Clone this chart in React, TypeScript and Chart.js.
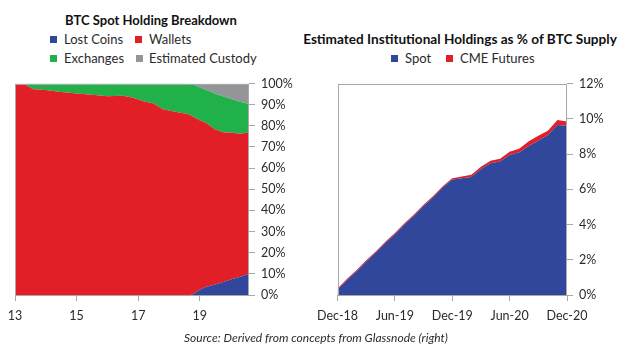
import React, { useEffect, useRef } from "react";
import { Chart, registerables } from "chart.js";

Chart.register(...registerables);

// ---------- Data: left chart (BTC Spot Holding Breakdown, % of supply) ----------
const leftYears = [13.0, 13.3, 13.6, 14.0, 14.5, 15.0, 15.5, 16.0, 16.5, 16.8, 17.2, 17.5, 17.8, 18.2, 18.6, 18.7, 18.8, 19.0, 19.2, 19.5, 19.8, 20.0, 20.3, 20.6];
const lostCoins = [0, 0, 0, 0, 0, 0, 0, 0, 0, 0, 0, 0, 0, 0, 0, 0, 0.6, 2.5, 3.8, 5.0, 6.3, 7.3, 8.5, 10.0];
const wallets = [100, 99.6, 97.3, 96.9, 96.0, 95.3, 94.7, 94.0, 94.2, 93.4, 91.5, 90.5, 87.8, 86.6, 85.6, 85.0, 83.6, 80.1, 77.6, 73.2, 70.5, 69.5, 67.8, 66.8];
const exchanges = [0, 0.4, 2.7, 3.1, 4.0, 4.7, 5.3, 6.0, 5.8, 6.6, 8.5, 9.5, 12.2, 13.4, 14.4, 14.9, 15.3, 15.6, 15.6, 17.0, 16.9, 16.0, 15.1, 13.5];
const custody = [0, 0, 0, 0, 0, 0, 0, 0, 0, 0, 0, 0, 0, 0, 0, 0.1, 0.5, 1.8, 3.0, 4.8, 6.3, 7.2, 8.6, 9.7];
const leftXTicks = [13, 15, 17, 19];

// ---------- Data: right chart (Institutional holdings, % of BTC supply) ----------
const months = [0, 1, 2, 3, 4, 5, 6, 7, 8, 9, 10, 11, 12, 13, 14, 15, 16, 17, 18, 19, 20, 21, 22, 23, 24];
const spot = [0.3, 0.85, 1.35, 1.9, 2.4, 2.95, 3.45, 4.0, 4.5, 5.05, 5.55, 6.1, 6.55, 6.62, 6.7, 7.15, 7.48, 7.58, 7.95, 8.1, 8.45, 8.75, 9.08, 9.65, 9.6];
const cmeFutures = [0.07, 0.07, 0.07, 0.07, 0.07, 0.07, 0.07, 0.07, 0.07, 0.07, 0.07, 0.07, 0.08, 0.1, 0.12, 0.13, 0.14, 0.15, 0.18, 0.2, 0.28, 0.28, 0.24, 0.28, 0.24];
const rightTickValues = [0, 6, 12, 18, 24];
const rightTickLabels = ["Dec-18", "Jun-19", "Dec-19", "Jun-20", "Dec-20"];

const BLUE = "#30479b";
const RED = "#e21f26";
const GREEN = "#21b14b";
const GRAY = "#939598";
const AXIS = "#a8a8a8";
const TXT = "#2b2b2b";
const FONT = "Lato, 'Open Sans', sans-serif";

const framePlugin = {
  id: "frame",
  afterDatasetsDraw(chart: any) {
    const { ctx, chartArea: a } = chart;
    ctx.save();
    ctx.strokeStyle = AXIS;
    ctx.lineWidth = 1;
    ctx.strokeRect(Math.round(a.left) + 0.5, Math.round(a.top) + 0.5, Math.round(a.right - a.left) - 1, Math.round(a.bottom - a.top) - 1);
    ctx.restore();
  },
};

function makeOptions(p: {
  xMin: number; xMax: number; xTicks: number[]; xLabel: (v: number) => string;
  yMax: number; yStep: number; padLeft: number; yWidth: number;
}) {
  return {
    responsive: false,
    animation: false,
    devicePixelRatio: 1,
    layout: { padding: { left: p.padLeft, top: 9, right: 0, bottom: 0 } },
    plugins: { legend: { display: false }, tooltip: { enabled: false }, title: { display: false } },
    elements: { point: { radius: 0 }, line: { borderWidth: 0, tension: 0 } },
    scales: {
      x: {
        type: "linear",
        min: p.xMin,
        max: p.xMax,
        afterBuildTicks: (s: any) => { s.ticks = p.xTicks.map((v) => ({ value: v })); },
        afterFit: (s: any) => { s.height = 35; },
        ticks: { callback: (v: any) => p.xLabel(Number(v)), color: TXT, font: { family: FONT, size: 12.5 }, padding: 7, maxRotation: 0, autoSkip: false },
        grid: { drawOnChartArea: false, drawTicks: true, tickLength: 6, color: AXIS },
        border: { display: false },
      },
      y: {
        position: "right",
        stacked: true,
        min: 0,
        max: p.yMax,
        afterFit: (s: any) => { s.width = p.yWidth; },
        ticks: { stepSize: p.yStep, callback: (v: any) => v + "%", color: TXT, font: { family: FONT, size: 12.5 }, padding: 6 },
        grid: { drawOnChartArea: false, drawTicks: true, tickLength: 6, color: AXIS },
        border: { display: false },
      },
    },
  };
}

function ChartCanvas({ config, left, top, width, height }: any) {
  const ref = useRef<HTMLCanvasElement>(null);
  useEffect(() => {
    const chart = new Chart(ref.current as HTMLCanvasElement, config);
    return () => chart.destroy();
  }, []);
  return <canvas ref={ref} width={width} height={height} style={{ position: "absolute", left, top, width, height }} />;
}

function Txt({ x, y, w, align, size, bold, italic, children, ls }: any) {
  const style: any = {
    position: "absolute",
    top: y - 9,
    height: 18,
    lineHeight: "18px",
    fontFamily: FONT,
    fontSize: size,
    fontWeight: bold ? 700 : 400,
    fontStyle: italic ? "italic" : "normal",
    color: bold ? "#111" : TXT,
    whiteSpace: "nowrap",
    letterSpacing: ls || 0,
  };
  if (align === "center") {
    style.left = x - w / 2;
    style.width = w;
    style.textAlign = "center";
  } else {
    style.left = x;
  }
  return <div style={style}>{children}</div>;
}

function Swatch({ x, y, color }: any) {
  return <div style={{ position: "absolute", left: x, top: y - 3.5, width: 7, height: 7, background: color }} />;
}

export default function App() {
  const leftConfig: any = {
    type: "line",
    data: {
      datasets: [
        { label: "Lost Coins", data: leftYears.map((x, i) => ({ x, y: lostCoins[i] })), backgroundColor: BLUE, fill: "origin" },
        { label: "Wallets", data: leftYears.map((x, i) => ({ x, y: wallets[i] })), backgroundColor: RED, fill: "-1" },
        { label: "Exchanges", data: leftYears.map((x, i) => ({ x, y: exchanges[i] })), backgroundColor: GREEN, fill: "-1" },
        { label: "Estimated Custody", data: leftYears.map((x, i) => ({ x, y: custody[i] })), backgroundColor: GRAY, fill: "-1" },
      ],
    },
    options: makeOptions({ xMin: 13, xMax: 20.6, xTicks: leftXTicks, xLabel: (v) => String(v), yMax: 100, yStep: 10, padLeft: 15, yWidth: 61 }),
    plugins: [framePlugin],
  };

  const rightConfig: any = {
    type: "line",
    data: {
      datasets: [
        { label: "Spot", data: months.map((x, i) => ({ x, y: spot[i] })), backgroundColor: BLUE, fill: "origin" },
        { label: "CME Futures", data: months.map((x, i) => ({ x, y: cmeFutures[i] })), backgroundColor: RED, fill: "-1" },
      ],
    },
    options: makeOptions({
      xMin: 0, xMax: 24, xTicks: rightTickValues,
      xLabel: (v) => rightTickLabels[rightTickValues.indexOf(v)] ?? "",
      yMax: 12, yStep: 2, padLeft: 25, yWidth: 54,
    }),
    plugins: [framePlugin],
  };

  return (
    <div style={{ position: "fixed", left: 0, top: 0, width: 621, height: 351, background: "#fff", overflow: "hidden" }}>
      <Txt x={151} y={20} w={300} align="center" size={13} bold>BTC Spot Holding Breakdown</Txt>
      <Swatch x={50} y={39} color={BLUE} />
      <Txt x={64} y={39} size={13}>Lost Coins</Txt>
      <Swatch x={135} y={39} color={RED} />
      <Txt x={149} y={39} size={13}>Wallets</Txt>
      <Swatch x={50} y={58} color={GREEN} />
      <Txt x={64} y={58} size={13}>Exchanges</Txt>
      <Swatch x={136} y={58} color={GRAY} />
      <Txt x={149} y={58} size={13}>Estimated Custody</Txt>

      <Txt x={460} y={39} w={330} align="center" size={13.6} bold>Estimated Institutional Holdings as % of BTC Supply</Txt>
      <Swatch x={391} y={58} color={BLUE} />
      <Txt x={405} y={58} size={13}>Spot</Txt>
      <Swatch x={446} y={58} color={RED} />
      <Txt x={460} y={58} size={13}>CME Futures</Txt>

      <ChartCanvas config={leftConfig} left={0} top={70} width={310} height={260} />
      <ChartCanvas config={rightConfig} left={310} top={70} width={311} height={260} />

      <Txt x={316} y={338} w={400} align="center" size={12} italic>Source: Derived from concepts from Glassnode (right)</Txt>
    </div>
  );
}
